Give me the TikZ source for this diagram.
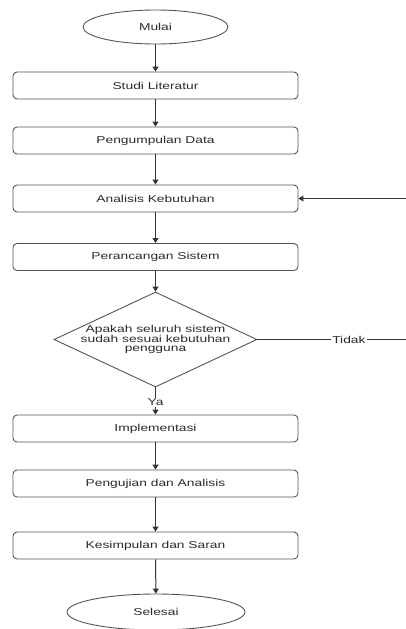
\documentclass[tikz,border=0pt]{standalone}
\usepackage{fontspec}
\setmainfont[FakeStretch=1.38]{Liberation Sans}
\usetikzlibrary{arrows.meta,shapes.geometric}
\definecolor{edgec}{HTML}{555555}
\definecolor{linec}{HTML}{333333}
\definecolor{txtc}{HTML}{2A2A2A}
\begin{document}
\begin{tikzpicture}[x=1pt,y=1pt,
  font=\fontsize{10}{11}\selectfont, text=txtc,
  stepbox/.style={rectangle, rounded corners=4pt, draw=edgec, line width=0.9pt, minimum width=285pt, minimum height=27pt, inner sep=0pt},
  term/.style={ellipse, draw=edgec, line width=0.9pt, inner sep=0pt},
  arr/.style={draw=linec, line width=1pt, -{Triangle[length=5pt,width=6pt]}},
  lbl/.style={fill=white, inner sep=1pt}]
\useasboundingbox (0,0) rectangle (406,-629);
\node[term, minimum width=145pt, minimum height=34pt] (mulai) at (155.5,-27) {Mulai};
\node[stepbox] (studi) at (155.5,-85.5) {Studi Literatur};
\node[stepbox] (data) at (155.5,-140.5) {Pengumpulan Data};
\node[stepbox] (anal) at (155.5,-198.5) {Analisis Kebutuhan};
\node[stepbox] (ranc) at (155.5,-257) {Perancangan Sistem};
\node[diamond, draw=edgec, line width=0.9pt, minimum width=203pt, minimum height=95pt, inner sep=0pt] (dec) at (155.5,-339.5) {};
\node[align=center, font=\fontsize{10}{9.3}\selectfont] (dectxt) at (dec.center) {Apakah seluruh sistem\\sudah sesuai kebutuhan\\pengguna};
\node[stepbox] (impl) at (155.5,-428.5) {Implementasi};
\node[stepbox] (uji) at (155.5,-483.5) {Pengujian dan Analisis};
\node[stepbox] (kes) at (155.5,-545.5) {Kesimpulan dan Saran};
\node[term, minimum width=178pt, minimum height=36pt] (sel) at (156,-612) {Selesai};
\coordinate (loopA) at (430,-339.5);
\coordinate (loopB) at (430,-198.5);
\draw[arr] (mulai) -- (studi);
\draw[arr] (studi) -- (data);
\draw[arr] (data) -- (anal);
\draw[arr] (anal) -- (ranc);
\draw[arr] (ranc) -- (dec);
\draw[arr] (dec) -- node[lbl, pos=0.55] (ya) {Ya} (impl);
\draw[arr] (impl) -- (uji);
\draw[arr] (uji) -- (kes);
\draw[arr] (kes) -- (sel);
\draw[arr] (dec.east) -- node[lbl, pos=0.53] (tidak) {Tidak} (loopA) -- (loopB) -- (anal.east);
\end{tikzpicture}
\end{document}
